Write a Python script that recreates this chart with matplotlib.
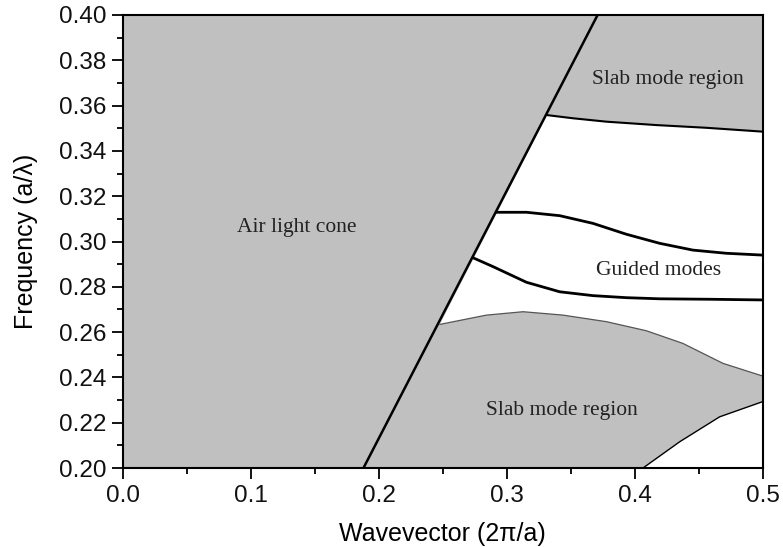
import matplotlib
matplotlib.use("Agg")
import matplotlib.pyplot as plt
import numpy as np

# Light line (air light cone boundary)
light_k = [0.188, 0.371]
light_f = [0.20, 0.40]

# Upper slab mode region lower boundary
upper_slab_k = [0.3315, 0.3518, 0.3779, 0.4169, 0.456, 0.500]
upper_slab_f = [0.3558, 0.3544, 0.3529, 0.3514, 0.3502, 0.3485]

# Guided modes
mode1_k = [0.2919, 0.3154, 0.3414, 0.3674, 0.3935, 0.4195, 0.4455, 0.4716, 0.500]
mode1_f = [0.3129, 0.3129, 0.3114, 0.3080, 0.3032, 0.2992, 0.2962, 0.2948, 0.2940]
mode2_k = [0.2737, 0.2893, 0.3154, 0.3414, 0.3674, 0.3935, 0.4195, 0.4586, 0.500]
mode2_f = [0.2928, 0.2889, 0.2820, 0.2778, 0.2761, 0.2752, 0.2747, 0.2745, 0.2742]

# Lower slab mode region upper boundary
lower_slab_k = [0.2477, 0.2841, 0.3128, 0.3440, 0.3779, 0.4091, 0.4377, 0.4690, 0.500]
lower_slab_f = [0.2634, 0.2675, 0.2690, 0.2675, 0.2646, 0.2606, 0.2550, 0.2462, 0.2406]

# Lower slab mode region lower-right boundary
lr_k = [0.4065, 0.4352, 0.4664, 0.500]
lr_f = [0.200, 0.2116, 0.2226, 0.2293]

xticks = [0.0, 0.1, 0.2, 0.3, 0.4, 0.5]
yticks = [0.20, 0.22, 0.24, 0.26, 0.28, 0.30, 0.32, 0.34, 0.36, 0.38, 0.40]

GRAY = "#c0c0c0"

fig = plt.figure(figsize=(7.83, 5.47), dpi=100)
ax = fig.add_axes([0.157, 0.1444, 0.817, 0.8282])
ax.set_facecolor(GRAY)

# White guided region between slab regions, right of light line
wk = [lower_slab_k[0], upper_slab_k[0]] + upper_slab_k[1:] + lower_slab_k[::-1]
wf = [lower_slab_f[0], upper_slab_f[0]] + upper_slab_f[1:] + lower_slab_f[::-1]
ax.fill(wk, wf, color="white", lw=0, zorder=1)
# White bottom-right corner
ax.fill(lr_k + [0.50], lr_f + [0.20], color="white", lw=0, zorder=1)

lk = dict(solid_joinstyle="round", solid_capstyle="round", zorder=3)
ax.plot(light_k, light_f, color="black", lw=1.8, **lk)
ax.plot(upper_slab_k, upper_slab_f, color="black", lw=1.5, **lk)
ax.plot(mode1_k, mode1_f, color="black", lw=2.0, **lk)
ax.plot(mode2_k, mode2_f, color="black", lw=2.0, **lk)
ax.plot(lower_slab_k, lower_slab_f, color="#555555", lw=0.9, **lk)
ax.plot(lr_k, lr_f, color="black", lw=1.0, **lk)

tf = dict(family="Liberation Serif", fontsize=15.5, color="#222222", ha="center", va="center")
ax.text(0.1355, 0.3064, "Air light cone", **tf)
ax.text(0.426, 0.3713, "Slab mode region", **tf)
ax.text(0.419, 0.2870, "Guided modes", **tf)
ax.text(0.343, 0.2256, "Slab mode region", **tf)

ax.set_xlim(0.0, 0.5)
ax.set_ylim(0.20, 0.40)
ax.set_xticks(xticks)
ax.set_yticks(yticks)
ax.set_xticklabels([f"{v:.1f}" for v in xticks])
ax.set_yticklabels([f"{v:.2f}" for v in yticks])
ax.set_xticks(np.arange(0.05, 0.5, 0.1), minor=True)
ax.set_yticks(np.arange(0.21, 0.40, 0.02), minor=True)
ax.tick_params(which="major", direction="out", length=8, width=1.3, labelsize=17.5,
               pad=4, colors="black")
ax.tick_params(which="minor", direction="out", length=4.5, width=1.3)
for lab in ax.get_xticklabels() + ax.get_yticklabels():
    lab.set_family("Liberation Sans")
    lab.set_color("#111111")
for s in ax.spines.values():
    s.set_linewidth(1.5)
    s.set_zorder(5)

ax.set_xlabel("Wavevector (2\u03c0/a)", family="Liberation Sans", fontsize=18, labelpad=11)
ax.set_ylabel("Frequency (a/\u03bb)", family="Liberation Sans", fontsize=18, labelpad=15)

fig.savefig("out.png", dpi=100)
